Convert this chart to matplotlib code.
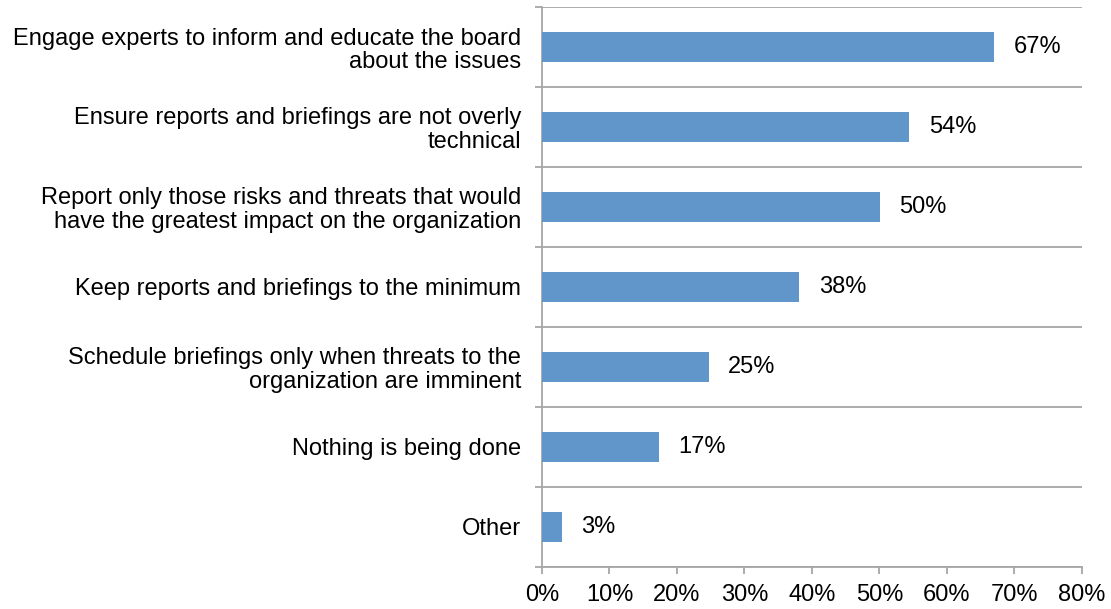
import matplotlib.pyplot as plt

plt.rcParams['font.family'] = ['Liberation Sans', 'DejaVu Sans']

# survey answers, top to bottom
categories = [
    "Engage experts to inform and educate the board\nabout the issues",
    "Ensure reports and briefings are not overly\ntechnical",
    "Report only those risks and threats that would\nhave the greatest impact on the organization",
    "Keep reports and briefings to the minimum",
    "Schedule briefings only when threats to the\norganization are imminent",
    "Nothing is being done",
    "Other",
]
percents = [67.0, 54.4, 50.1, 38.1, 24.7, 17.3, 2.9]
xticks = [0, 10, 20, 30, 40, 50, 60, 70, 80]

grey = '#A6A6A6'
fs = 17
fig = plt.figure(figsize=(11.11, 6.09), dpi=100)
ax = fig.add_axes([0.4878, 0.069, 0.4861, 0.9195])

ypos = list(range(len(categories)))
bars = ax.barh(ypos, percents, height=0.38, color='#6096CA', zorder=3)
ax.bar_label(bars, labels=[f"{p:.0f}%" for p in percents], padding=14, fontsize=fs)

ax.set_xlim(0, 80)
ax.set_ylim(len(categories) - 0.5, -0.5)

# category separators as major ticks, names on minor ticks
ax.set_yticks([i - 0.5 for i in range(len(categories) + 1)])
ax.set_yticklabels([])
ax.set_yticks(ypos, minor=True)
ax.set_yticklabels(categories, minor=True, fontsize=fs, ha='right', linespacing=1.1)
ax.tick_params(axis='y', which='major', length=5, color=grey, width=1.3)
ax.tick_params(axis='y', which='minor', length=0, pad=15)
ax.yaxis.grid(True, which='major', color=grey, linewidth=1.3, zorder=0)

ax.set_xticks(xticks)
ax.set_xticklabels([f"{t}%" for t in xticks], fontsize=fs)
ax.tick_params(axis='x', length=5, color=grey, width=1.3, pad=7)

for side in ['top', 'right']:
    ax.spines[side].set_visible(False)
for side in ['left', 'bottom']:
    ax.spines[side].set_color(grey)
    ax.spines[side].set_linewidth(1.3)

plt.savefig('out.png', dpi=100)
